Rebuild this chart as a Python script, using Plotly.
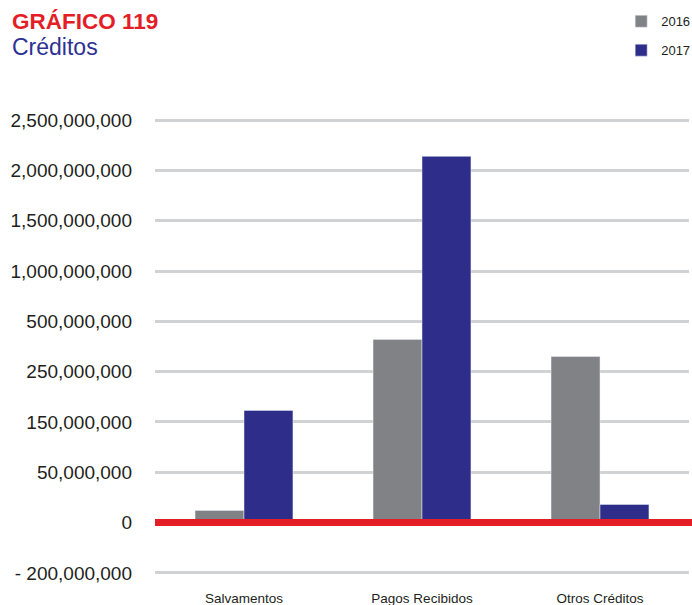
import numpy as np
import plotly.graph_objects as go

# Datos
categorias = ["Salvamentos", "Pagos Recibidos", "Otros Créditos"]
valores_2016 = [12_000_000, 410_000_000, 325_000_000]
valores_2017 = [173_000_000, 2_140_000_000, 18_000_000]

# Eje Y no lineal (marcas equiespaciadas)
ticks_valor = [-200_000_000, 0, 50_000_000, 150_000_000, 250_000_000,
               500_000_000, 1_000_000_000, 1_500_000_000, 2_000_000_000, 2_500_000_000]
ticks_texto = ["- 200,000,000", "0", "50,000,000", "150,000,000", "250,000,000",
               "500,000,000", "1,000,000,000", "1,500,000,000", "2,000,000,000",
               "2,500,000,000"]
ticks_pos = np.arange(len(ticks_valor))


def escala(v):
    return np.interp(v, ticks_valor, ticks_pos)


cero = float(escala(0))
fuente = "Arial, Liberation Sans, sans-serif"
gris = "#818285"
azul = "#2e2e8a"

fig = go.Figure()
fig.add_trace(go.Bar(x=categorias, y=escala(valores_2016) - cero, base=cero,
                     name="2016", marker_color=gris, legendgroup="a",
                     customdata=valores_2016, hovertemplate="%{customdata:,}"))
fig.add_trace(go.Bar(x=categorias, y=escala(valores_2017) - cero, base=cero,
                     name="2017", marker_color=azul, legendgroup="b",
                     customdata=valores_2017, hovertemplate="%{customdata:,}"))

# Línea roja en cero
fig.add_shape(type="line", xref="paper", x0=0, x1=1.01, yref="y", y0=cero, y1=cero,
              line=dict(color="#e31e26", width=7), layer="above")

fig.add_annotation(text="<b>GRÁFICO 119</b>", xref="paper", yref="paper",
                   x=-0.2715, y=1.160, xanchor="left", yanchor="middle",
                   showarrow=False, font=dict(family=fuente, size=22.5, color="#e31e26"))
fig.add_annotation(text="Créditos", xref="paper", yref="paper",
                   x=-0.2715, y=1.108, xanchor="left", yanchor="middle",
                   showarrow=False, font=dict(family=fuente, size=23, color="#2e3192"))

fig.update_layout(
    width=692, height=605,
    margin=dict(l=155, r=3, t=100, b=17, autoexpand=False),
    plot_bgcolor="white", paper_bgcolor="white",
    barmode="group", bargap=0.45, bargroupgap=0,
    font=dict(family=fuente, color="#231f20"),
    legend=dict(x=0.873, y=1.192, xanchor="left", yanchor="top",
                font=dict(size=13), tracegroupgap=9, bgcolor="rgba(0,0,0,0)"),
    xaxis=dict(showgrid=False, showline=False, ticks="",
               tickfont=dict(size=13.5), automargin=False),
    yaxis=dict(range=[-0.3, 9.4], tickvals=ticks_pos, ticktext=ticks_texto,
               showgrid=True, gridcolor="#d1d2d4", gridwidth=3, zeroline=False,
               showline=False, tickfont=dict(size=19), ticklabelstandoff=22,
               automargin=False),
)

fig.write_html("out.html", config={"displayModeBar": False},
               post_script="document.body.style.margin='0';"
                           "document.body.style.overflow='hidden';")
